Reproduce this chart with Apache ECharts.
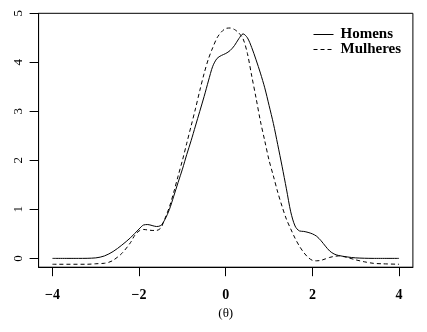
<!DOCTYPE html>
<html>
<head>
<meta charset="utf-8">
<script src="https://cdn.jsdelivr.net/npm/echarts@6/dist/echarts.min.js"></script>
<style>
  html, body { margin: 0; padding: 0; background: #fff; }
  #main { width: 427px; height: 332px; }
</style>
</head>
<body>
<div id="main"></div>
<script>
// densidades estimadas
var thetaH = [-4, -3.4, -3.0, -2.8, -2.6, -2.4, -2.2, -2.0, -1.9, -1.8, -1.7, -1.6, -1.5, -1.4, -1.3, -1.2, -1.1, -1.0, -0.9, -0.8, -0.7, -0.6, -0.5, -0.4, -0.3, -0.2, -0.1, 0, 0.1, 0.2, 0.3, 0.4, 0.5, 0.6, 0.7, 0.8, 0.9, 1.0, 1.1, 1.2, 1.3, 1.4, 1.5, 1.6, 1.7, 1.8, 1.9, 2.0, 2.1, 2.2, 2.3, 2.4, 2.5, 2.6, 2.8, 3.0, 3.4, 4];
var homens = [0, 0, 0.01, 0.05, 0.14, 0.27, 0.42, 0.6, 0.68, 0.69, 0.67, 0.65, 0.67, 0.8, 1.0, 1.27, 1.55, 1.82, 2.12, 2.4, 2.7, 3.0, 3.3, 3.62, 3.92, 4.08, 4.14, 4.18, 4.24, 4.34, 4.48, 4.58, 4.5, 4.3, 4.05, 3.78, 3.48, 3.12, 2.75, 2.32, 1.88, 1.42, 0.95, 0.66, 0.56, 0.55, 0.53, 0.5, 0.45, 0.36, 0.25, 0.15, 0.09, 0.06, 0.03, 0.01, 0, 0];
var thetaM = [-4, -3.2, -3.0, -2.8, -2.7, -2.6, -2.4, -2.2, -2.1, -2.0, -1.9, -1.8, -1.7, -1.6, -1.5, -1.4, -1.3, -1.2, -1.1, -1.0, -0.9, -0.8, -0.7, -0.6, -0.5, -0.4, -0.3, -0.2, -0.1, 0, 0.1, 0.2, 0.3, 0.4, 0.5, 0.6, 0.7, 0.8, 0.9, 1.0, 1.1, 1.2, 1.3, 1.4, 1.5, 1.6, 1.7, 1.8, 1.9, 2.0, 2.1, 2.2, 2.3, 2.4, 2.5, 2.6, 2.7, 2.8, 3.0, 3.2, 3.4, 3.6, 4];
var mulheres = [-0.12, -0.12, -0.11, -0.1, -0.08, -0.04, 0.1, 0.32, 0.47, 0.56, 0.59, 0.58, 0.57, 0.57, 0.62, 0.82, 1.05, 1.35, 1.68, 2.0, 2.35, 2.7, 3.05, 3.42, 3.77, 4.07, 4.3, 4.5, 4.62, 4.69, 4.7, 4.67, 4.6, 4.48, 4.18, 3.72, 3.27, 2.8, 2.4, 2.0, 1.68, 1.35, 1.06, 0.8, 0.6, 0.41, 0.25, 0.12, 0.02, -0.04, -0.05, -0.04, -0.01, 0.02, 0.04, 0.05, 0.04, 0.02, -0.03, -0.07, -0.1, -0.11, -0.12];
var xTicks = [-4, -2, 0, 2, 4];
var yTicks = [0, 1, 2, 3, 4, 5];

function pares(xs, ys) {
  return xs.map(function (x, i) { return [x, ys[i]]; });
}

var myChart = echarts.init(document.getElementById('main'));
var serif = '"Liberation Serif", "DejaVu Serif", serif';
var option = {
  animation: false,
  textStyle: { fontFamily: serif, color: '#000' },
  grid: {
    left: 38.6, right: 14.1, top: 13.3, bottom: 64.8,
    show: true, borderColor: '#000', borderWidth: 1
  },
  legend: {
    orient: 'vertical',
    left: 308, top: 22,
    itemWidth: 20, itemHeight: 14, itemGap: 0,
    itemStyle: { opacity: 0 },
    lineStyle: { width: 1 },
    textStyle: { fontFamily: serif, fontWeight: 'bold', fontSize: 15, color: '#000', padding: [0, 0, 0, 2] },
    data: ['Homens', 'Mulheres']
  },
  xAxis: {
    type: 'value',
    min: -4.32, max: 4.32,
    name: '(θ)', nameLocation: 'middle', nameGap: 40,
    nameTextStyle: { fontFamily: serif, fontSize: 13, color: '#000' },
    axisLine: { show: true, onZero: false, lineStyle: { color: '#000' } },
    axisTick: { show: true, customValues: xTicks, length: 9, lineStyle: { color: '#000' } },
    axisLabel: { customValues: xTicks, margin: 21, fontFamily: serif, fontWeight: 'bold', fontSize: 14, color: '#000',
      formatter: function (v) { return v < 0 ? '\u2212' + Math.abs(v) : String(v); } },
    splitLine: { show: false }
  },
  yAxis: {
    type: 'value',
    min: -0.18, max: 5,
    axisLine: { show: true, onZero: false, lineStyle: { color: '#000' } },
    axisTick: { show: true, customValues: yTicks, length: 9, lineStyle: { color: '#000' } },
    axisLabel: { customValues: yTicks, rotate: 90, margin: 14, fontFamily: serif, fontSize: 13, color: '#000' },
    splitLine: { show: false }
  },
  series: [
    {
      name: 'Homens', type: 'line', smooth: 0.3, symbol: 'none',
      lineStyle: { color: '#000', width: 1 },
      itemStyle: { color: '#000' },
      data: pares(thetaH, homens)
    },
    {
      name: 'Mulheres', type: 'line', smooth: 0.3, symbol: 'none',
      lineStyle: { color: '#000', width: 1, type: [4, 3] },
      itemStyle: { color: '#000' },
      data: pares(thetaM, mulheres)
    }
  ]
};
myChart.setOption(option);
</script>
</body>
</html>
